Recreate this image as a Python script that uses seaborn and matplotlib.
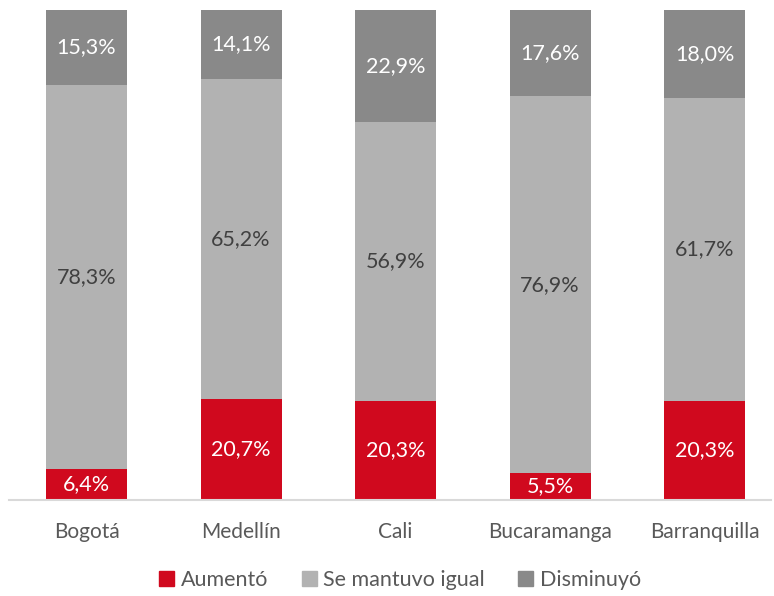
import numpy as np
import pandas as pd
import seaborn as sns
import matplotlib.pyplot as plt
from matplotlib.patches import Patch

# datos
ciudades = ["Bogotá", "Medellín", "Cali", "Bucaramanga", "Barranquilla"]
aumento = [6.4, 20.7, 20.3, 5.5, 20.3]
igual = [78.3, 65.2, 56.9, 76.9, 61.7]
disminuyo = [15.3, 14.1, 22.9, 17.6, 18.0]

series = ["Aumentó", "Se mantuvo igual", "Disminuyó"]
colores = ["#D0091E", "#B2B2B2", "#898989"]
txt_col = ["white", "#404040", "white"]

df = pd.DataFrame({"ciudad": ciudades, "Aumentó": aumento,
                   "Se mantuvo igual": igual, "Disminuyó": disminuyo})
acum = df[series].cumsum(axis=1)

sns.set_style("white")
plt.rcParams['font.family'] = ['Lato', 'DejaVu Sans']

fig = plt.figure(figsize=(7.74, 5.96), dpi=100)
ax = fig.add_axes([9 / 774, 96 / 596, 762 / 774, 490 / 596])

# barras apiladas: dibujar de la mas alta a la mas baja
for s, c in reversed(list(zip(series, colores))):
    sns.barplot(x=df["ciudad"], y=acum[s], color=c, width=0.524,
                saturation=1, ax=ax, linewidth=0)

# etiquetas
for i in range(len(ciudades)):
    base = 0
    for s, tc in zip(series, txt_col):
        v = df[s][i]
        ax.text(i, base + v / 2, f"{v:.1f}%".replace(".", ","), ha="center",
                va="center", fontsize=15.5, color=tc)
        base += v

ax.set_xlim(-0.5016, 4.430)
ax.set_ylim(0, 100)
ax.set_xlabel("")
ax.set_ylabel("")
ax.set_yticks([])
for sp in ["top", "right", "left"]:
    ax.spines[sp].set_visible(False)
ax.spines["bottom"].set_color("#D9D9D9")
ax.spines["bottom"].set_linewidth(1.5)
ax.tick_params(axis="x", length=0, pad=16, labelsize=15, labelcolor="#595959")

handles = [Patch(color=c, label=s) for s, c in zip(series, colores)]
fig.legend(handles=handles, loc="center", bbox_to_anchor=(400 / 774, 16 / 596),
           ncol=3, frameon=False, fontsize=15.5, handlelength=0.7,
           handleheight=0.7, handletextpad=0.3, columnspacing=1.55,
           labelcolor="#595959")

fig.savefig("out.png", dpi=100)
